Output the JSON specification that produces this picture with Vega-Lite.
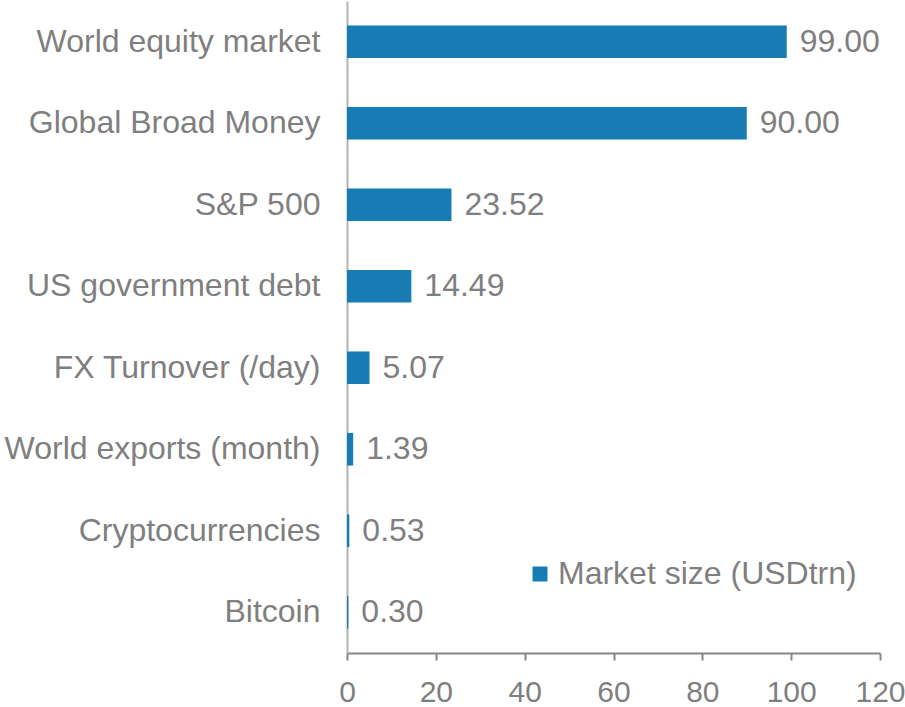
{
  "$schema": "https://vega.github.io/schema/vega-lite/v6.json",
  "autosize": "none",
  "width": 533,
  "height": 652,
  "padding": {"left": 347, "top": 1, "right": 25, "bottom": 54},
  "background": "white",
  "config": {
    "view": {"stroke": null},
    "font": "Liberation Sans",
    "axis": {"grid": false, "labelFont": "Liberation Sans", "labelColor": "#7f7f7f", "title": null}
  },
  "data": {
    "values": [
      {"name": "World equity market", "value": 99.0, "series": "Market size (USDtrn)"},
      {"name": "Global Broad Money", "value": 90.0, "series": "Market size (USDtrn)"},
      {"name": "S&P 500", "value": 23.52, "series": "Market size (USDtrn)"},
      {"name": "US government debt", "value": 14.49, "series": "Market size (USDtrn)"},
      {"name": "FX Turnover (/day)", "value": 5.07, "series": "Market size (USDtrn)"},
      {"name": "World exports (month)", "value": 1.39, "series": "Market size (USDtrn)"},
      {"name": "Cryptocurrencies", "value": 0.53, "series": "Market size (USDtrn)"},
      {"name": "Bitcoin", "value": 0.3, "series": "Market size (USDtrn)"}
    ]
  },
  "encoding": {
    "y": {
      "field": "name", "type": "nominal", "sort": null,
      "scale": {"paddingInner": 0.6, "paddingOuter": 0.3},
      "axis": {"ticks": false, "labelFontSize": 32, "labelPadding": 27, "domainColor": "#b3b3b3", "domainWidth": 2, "labelLimit": 400}
    },
    "x": {
      "field": "value", "type": "quantitative",
      "scale": {"domain": [0, 120], "nice": false},
      "axis": {"values": [0, 20, 40, 60, 80, 100, 120], "labelFontSize": 30, "labelPadding": 17, "tickSize": 7, "tickColor": "#868686", "tickWidth": 2, "domainColor": "#868686", "domainWidth": 2, "labelFlush": false}
    }
  },
  "layer": [
    {
      "mark": {"type": "bar"},
      "encoding": {
        "color": {
          "field": "series", "type": "nominal",
          "scale": {"range": ["#167cb3"]},
          "legend": {"title": null, "orient": "none", "legendX": 177, "legendY": 557, "symbolType": "square", "symbolSize": 225, "labelFontSize": 32, "labelColor": "#7f7f7f", "labelFont": "Liberation Sans", "symbolStrokeWidth": 0, "labelOffset": 2, "labelLimit": 500}
        }
      }
    },
    {
      "mark": {"type": "text", "align": "left", "baseline": "middle", "dx": 13, "fontSize": 32, "color": "#7f7f7f", "font": "Liberation Sans"},
      "encoding": {"text": {"field": "value", "type": "quantitative", "format": ".2f"}}
    }
  ]
}
